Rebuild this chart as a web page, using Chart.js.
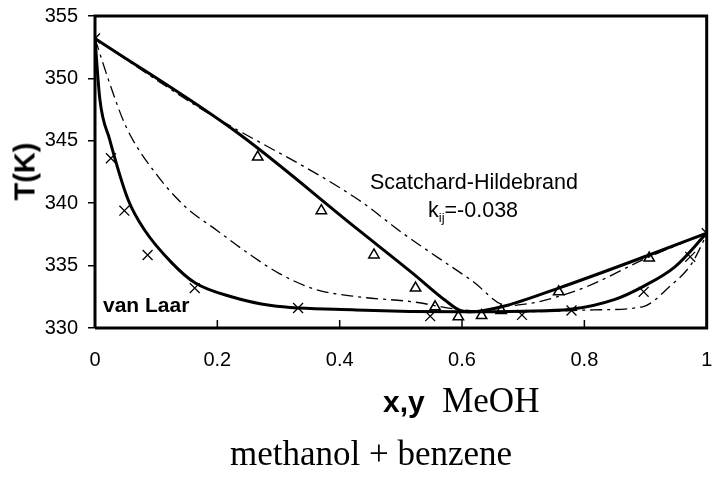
<!DOCTYPE html>
<html>
<head>
<meta charset="utf-8">
<script src="https://cdn.jsdelivr.net/npm/chart.js@4"></script>
<style>
  body { margin: 0; background: #fff; }
  #wrap { position: relative; width: 715px; height: 481px; overflow: hidden; }
  #myChart { position: absolute; left: 0; top: 0; }
  .lbl { position: absolute; white-space: nowrap; color: #000; }
  .sans { font-family: "Liberation Sans", Arial, sans-serif; }
  .serif { font-family: "Liberation Serif", "Times New Roman", serif; }
</style>
</head>
<body>
<div id="wrap">
  <canvas id="myChart" width="715" height="481"></canvas>
  <div class="lbl sans" style="left:-4px;top:155px;font-size:29px;font-weight:bold;transform:rotate(-90deg);">T(K)</div>
  <div class="lbl sans" style="left:370px;top:170px;font-size:21.5px;">Scatchard-Hildebrand</div>
  <div class="lbl sans" style="left:428px;top:198px;font-size:21.5px;">k<sub style="font-size:13px;">ij</sub>=-0.038</div>
  <div class="lbl sans" style="left:103px;top:293px;font-size:21px;font-weight:bold;">van Laar</div>
  <div class="lbl" style="left:383px;top:381px;"><span class="sans" style="font-size:30px;font-weight:bold;">x,y</span><span class="serif" style="font-size:35px;">&nbsp; MeOH</span></div>
  <div class="lbl serif" style="left:230px;top:434px;font-size:35px;">methanol + benzene</div>
</div>
<script>
// experimental points (x = liquid, crosses; y = vapour, triangles)
const xLiq = [0, 0.026, 0.048, 0.086, 0.163, 0.332, 0.548, 0.698, 0.779, 0.897, 0.973, 1];
const tLiq = [353.2, 343.6, 339.4, 335.85, 333.2, 331.6, 330.95, 331.05, 331.4, 332.9, 335.7, 337.6];
const yVap = [0.266, 0.370, 0.456, 0.524, 0.556, 0.594, 0.632, 0.664, 0.758, 0.906];
const tVap = [343.7, 339.4, 335.85, 333.2, 331.7, 330.9, 331.0, 331.4, 332.9, 335.6];

// van Laar (solid)
const vlBubX = [0, 0.008, 0.024, 0.054, 0.081, 0.126, 0.164, 0.223, 0.288, 0.427, 0.6, 0.7, 0.777, 0.85, 0.895, 0.948, 1];
const vlBubT = [353.2, 348.3, 345.1, 340.3, 337.85, 335.2, 333.6, 332.5, 331.8, 331.45, 331.3, 331.35, 331.5, 332.3, 333.3, 334.9, 337.6];
const vlDewX = [0, 0.234, 0.427, 0.519, 0.573, 0.597, 0.615, 0.665, 0.758, 0.906, 1];
const vlDewT = [353.2, 345.6, 338.0, 334.4, 332.2, 331.4, 331.3, 331.7, 333.2, 335.85, 337.6];

// Scatchard-Hildebrand (dash-dot)
const shDewX = [0, 0.169, 0.427, 0.503, 0.535, 0.616, 0.674, 0.787, 0.906, 1];
const shDewT = [353.2, 347.7, 340.4, 337.6, 336.5, 333.8, 331.8, 333.0, 335.7, 337.6];
const shBubX = [0, 0.024, 0.051, 0.099, 0.148, 0.2, 0.25, 0.3, 0.36, 0.43, 0.519, 0.6, 0.7, 0.815, 0.895, 0.939, 0.976, 1];
const shBubT = [353.2, 349.6, 346.1, 342.4, 339.7, 337.8, 336.0, 334.4, 333.1, 332.5, 332.1, 331.45, 331.3, 331.45, 331.7, 333.3, 335.2, 337.5];

const xTicks = [0, 0.2, 0.4, 0.6, 0.8, 1];

function pts(xs, ts){
  return xs.map((v, i) => ({x: v, y: ts[i]}));
}

function curve(xs, ts, dash, width){
  return {
    data: pts(xs, ts),
    showLine: true,
    borderColor: "#000",
    borderWidth: width,
    borderDash: dash,
    pointRadius: 0,
    cubicInterpolationMode: "monotone",
    fill: false
  };
}

// box round the plot + inside tick marks on x axis
const frame = {
  id: "frame",
  afterDraw(chart){
    const ctx = chart.ctx;
    const a = chart.chartArea;
    const sx = chart.scales.x;
    ctx.save();
    ctx.strokeStyle = "#000";
    ctx.lineWidth = 3;
    ctx.beginPath();
    ctx.moveTo(a.left, a.bottom);
    ctx.lineTo(a.left, a.top);
    ctx.lineTo(a.right, a.top);
    ctx.lineTo(a.right, a.bottom);
    ctx.lineTo(a.left, a.bottom);
    ctx.stroke();
    ctx.lineWidth = 1.5;
    xTicks.forEach(v => {
      const px = sx.getPixelForValue(v);
      ctx.beginPath();
      ctx.moveTo(px, a.bottom);
      ctx.lineTo(px, a.bottom - 8);
      ctx.stroke();
    });
    ctx.restore();
  }
};

const dashDot = [12, 5, 3, 5];

new Chart("myChart", {
  type: "scatter",
  data: {
    datasets: [
      curve(vlBubX, vlBubT, [], 3),
      curve(vlDewX, vlDewT, [], 3),
      curve(shDewX, shDewT, dashDot, 1.3),
      curve(shBubX, shBubT, dashDot, 1.3),
      {
        data: pts(xLiq, tLiq),
        pointStyle: "crossRot",
        pointRadius: 7,
        borderColor: "#000",
        borderWidth: 1.3,
        showLine: false
      },
      {
        data: pts(yVap, tVap),
        pointStyle: "triangle",
        pointRadius: 6,
        backgroundColor: "#fff",
        borderColor: "#000",
        borderWidth: 1.5,
        showLine: false
      }
    ]
  },
  options: {
    responsive: false,
    animation: false,
    layout: { padding: { top: 16, right: 1, left: 0, bottom: 0 } },
    plugins: { legend: { display: false }, tooltip: { enabled: false } },
    scales: {
      x: {
        type: "linear",
        min: 0, max: 1,
        afterBuildTicks: (s) => { s.ticks = xTicks.map(v => ({value: v})); },
        afterFit: (s) => { s.height = 153; s.paddingLeft = 0; s.paddingRight = 0; },
        grid: { display: true, drawOnChartArea: false, drawTicks: false, color: "#000" },
        border: { display: false },
        ticks: {
          color: "#000", padding: 20, maxRotation: 0,
          callback: (v) => String(Math.round(v * 10) / 10),
          font: { family: "Liberation Sans", size: 20 }
        }
      },
      y: {
        min: 330, max: 355,
        afterFit: (s) => { s.width = 95; s.paddingTop = 0; s.paddingBottom = 0; },
        grid: { drawOnChartArea: false, drawTicks: true, tickLength: 7, color: "#000", lineWidth: 1.5 },
        border: { display: false },
        ticks: { stepSize: 5, color: "#000", padding: 10, font: { family: "Liberation Sans", size: 20 } }
      }
    }
  },
  plugins: [frame]
});
</script>
</body>
</html>
